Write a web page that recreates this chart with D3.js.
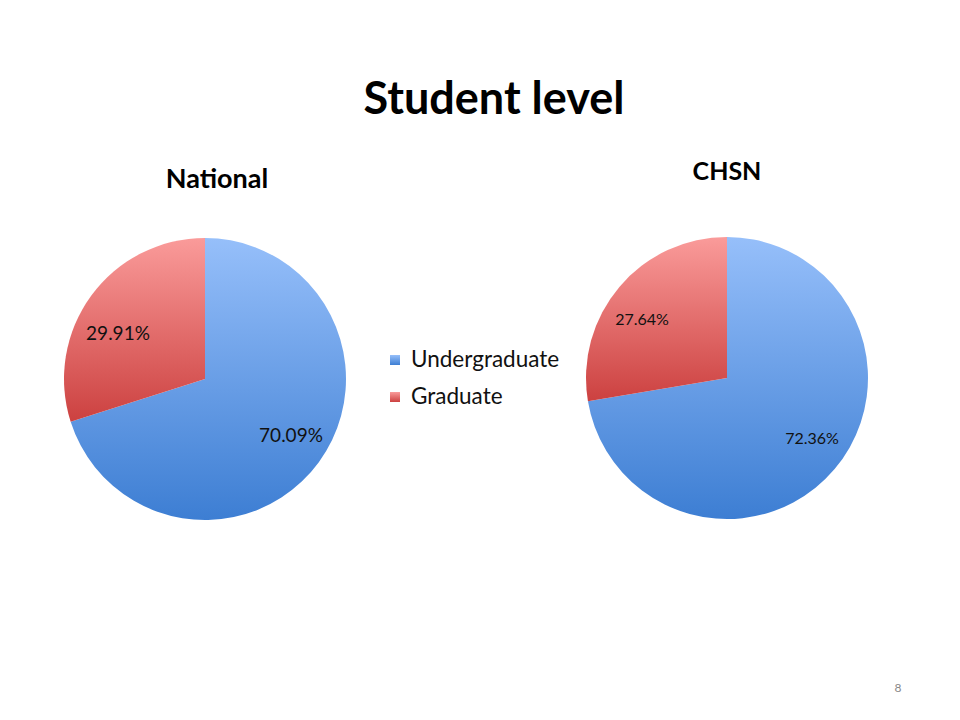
<!DOCTYPE html>
<html><head><meta charset="utf-8">
<script src="https://cdn.jsdelivr.net/npm/d3@7"></script>
<style>body{margin:0;background:#fff}svg{display:block}text{font-family:Lato,"Open Sans",sans-serif}</style>
</head><body>
<svg id="c" width="960" height="720"></svg>
<script>
const categories = ["Undergraduate", "Graduate"];
const nationalValues = [70.09, 29.91];
const chsnValues = [72.36, 27.64];
const chartTitles = ["National", "CHSN"];

const svg = d3.select("#c");
const defs = svg.append("defs");
const grads = [["#96bffa", "#3d7ed3"], ["#fa9b9a", "#cc4140"]];
grads.forEach((g, i) => {
  const lg = defs.append("linearGradient").attr("id", "g" + i)
    .attr("x1", 0).attr("y1", 0).attr("x2", 0).attr("y2", 1);
  lg.append("stop").attr("offset", "0%").attr("stop-color", g[0]);
  lg.append("stop").attr("offset", "100%").attr("stop-color", g[1]);
});

svg.append("text").attr("x", 494).attr("y", 114).attr("text-anchor", "middle")
  .attr("font-size", 45).attr("font-weight", "bold").attr("fill", "#000").text("Student level");

const pie = d3.pie().sort(null).value(d => d);
const arc = d3.arc().innerRadius(0).outerRadius(141);

const charts = [
  {values: nationalValues, cx: 205, cy: 379, tx: 217, ty: 188, tfs: 27, fs: 19,
   labelPos: [[291, 442], [118, 340]]},
  {values: chsnValues, cx: 727, cy: 378, tx: 727, ty: 180, tfs: 25, fs: 16,
   labelPos: [[812, 444], [642, 325]]}
];

charts.forEach((c, ci) => {
  svg.append("text").attr("x", c.tx).attr("y", c.ty).attr("text-anchor", "middle")
    .attr("font-size", c.tfs).attr("font-weight", "bold").text(chartTitles[ci]);
  const g = svg.append("g").attr("transform", `translate(${c.cx},${c.cy})`);
  const arcs = pie(c.values);
  g.selectAll("path").data(arcs).enter().append("path")
    .attr("d", arc).attr("fill", (d, i) => `url(#g${i})`)
    .attr("stroke", "none");
  arcs.forEach((d, i) => {
    svg.append("text").attr("x", c.labelPos[i][0]).attr("y", c.labelPos[i][1])
      .attr("text-anchor", "middle").attr("font-size", c.fs).attr("fill", "#111")
      .text(d.data.toFixed(2) + "%");
  });
});

const legend = svg.append("g");
categories.forEach((cat, i) => {
  const y = 360 + i * 37;
  legend.append("rect").attr("x", 390).attr("y", y - 5).attr("width", 10).attr("height", 10)
    .attr("fill", `url(#g${i})`);
  legend.append("text").attr("x", 411).attr("y", y + 7).attr("font-size", 22.5).attr("fill", "#111").text(cat);
});

svg.append("text").attr("x", 898).attr("y", 692).attr("text-anchor", "middle")
  .attr("font-size", 12).attr("fill", "#888").text("8");
</script>
</body></html>
